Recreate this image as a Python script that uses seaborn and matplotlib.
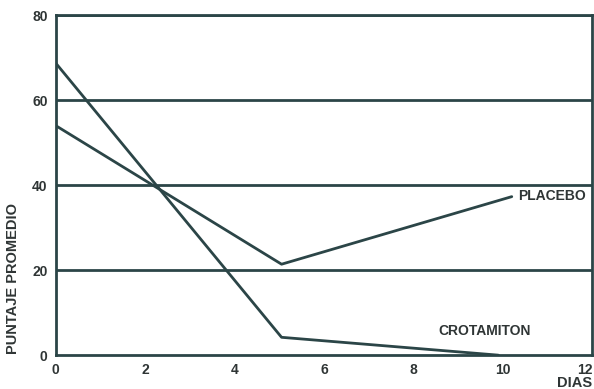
import matplotlib
matplotlib.use("Agg")
import matplotlib.pyplot as plt
import seaborn as sns
import pandas as pd

# Values
placebo_dias = [0, 5.05, 10.2]
placebo_puntaje = [54, 21.4, 37.3]
crota_dias = [0, 5.05, 9.9]
crota_puntaje = [68.7, 4.2, 0]

y_ticks = [0, 20, 40, 60, 80]
x_ticks = [0, 2, 4, 6, 8, 10, 12]

INK = '#2b4547'
TXT = '#2f3535'

sns.set_style("white")
plt.rcParams['font.family'] = ['Liberation Sans', 'DejaVu Sans']
plt.rcParams['font.weight'] = 'bold'

df = pd.concat([
    pd.DataFrame({'dias': placebo_dias, 'puntaje': placebo_puntaje, 'grupo': 'PLACEBO'}),
    pd.DataFrame({'dias': crota_dias, 'puntaje': crota_puntaje, 'grupo': 'CROTAMITON'}),
])

fig = plt.figure(figsize=(5.94, 3.89), dpi=100)
ax = fig.add_axes([0.094, 0.087, 0.903, 0.874])

# horizontal reference lines
for y in y_ticks[1:]:
    ax.axhline(y, color=INK, linewidth=2, zorder=1)

sns.lineplot(data=df, x='dias', y='puntaje', units='grupo', estimator=None,
             color=INK, linewidth=2, ax=ax, sort=False, zorder=2)

ax.set_xlim(0, 12)
ax.set_ylim(0, 80)
ax.set_xticks(x_ticks)
ax.set_yticks(y_ticks)
ax.tick_params(axis='both', labelsize=10, colors=TXT, length=0, pad=6)
for lab in ax.get_xticklabels() + ax.get_yticklabels():
    lab.set_fontweight('bold')
ax.get_xticklabels()[-1].set_horizontalalignment('right')
for s in ax.spines.values():
    s.set_color(INK)
    s.set_linewidth(2)

ax.set_xlabel('')
ax.set_ylabel('PUNTAJE PROMEDIO', fontsize=10.5, fontweight='bold', color=TXT)
ax.yaxis.set_label_coords(-0.066, 0.225)

ax.text(10.35, 37.4, 'PLACEBO', fontsize=10, fontweight='bold', color=TXT, va='center')
ax.text(9.6, 5.6, 'CROTAMITON', fontsize=10, fontweight='bold', color=TXT,
        ha='center', va='center')
ax.text(12, -6.6, 'DIAS', fontsize=10.5, fontweight='bold', color=TXT, ha='right', va='center')

fig.savefig('out.png', dpi=100, facecolor='white')
